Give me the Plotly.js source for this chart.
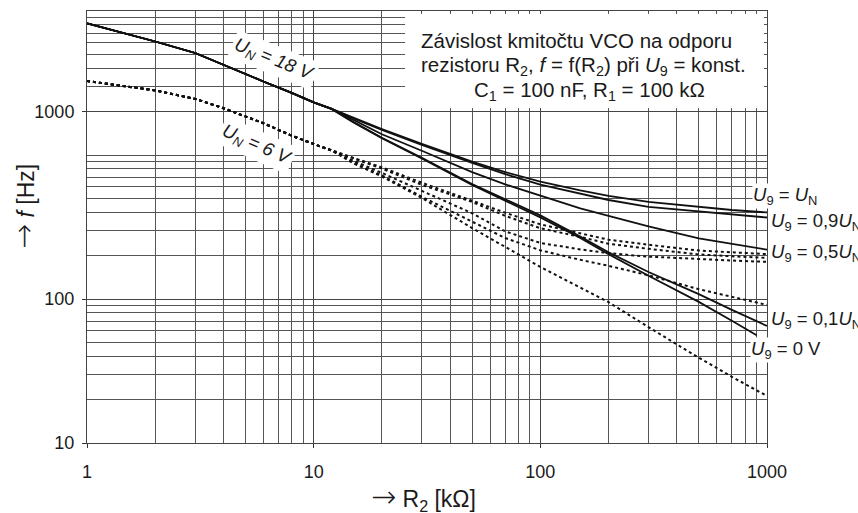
<!DOCTYPE html>
<html>
<head>
<meta charset="utf-8">
<script src="https://cdn.plot.ly/plotly-3.0.1.min.js"></script>
<style>html,body{margin:0;padding:0;background:#fff;}#chart{width:858px;height:513px;}</style>
</head>
<body>
<div id="chart"></div>
<script>
// R2 [kOhm] sample points
var R2 = [1, 2, 3, 4, 6, 8, 10, 12, 15, 20, 30, 50, 70, 100, 150, 200, 300, 500, 700, 1000];
var R2_0V = [1, 2, 3, 4, 6, 8, 10, 12, 15, 20, 30, 50, 70, 100, 150, 200, 300, 500, 700, 900];

// U_N = 18 V (solid), f [Hz]
var f18_UN   = [8200, 6140, 5110, 4217, 3240, 2700, 2320, 2090, 1816, 1516, 1194, 900, 761, 654, 567, 520, 472, 437, 415, 399];
var f18_09UN = [8200, 6140, 5110, 4217, 3240, 2700, 2320, 2090, 1793, 1492, 1173, 883, 736, 622, 540, 487, 436, 404, 386, 368];
var f18_05UN = [8200, 6140, 5110, 4217, 3240, 2700, 2320, 2090, 1745, 1394, 1070, 761, 625, 522, 426, 378, 320, 264, 242, 220];
var f18_01UN = [8200, 6140, 5110, 4217, 3240, 2700, 2320, 2090, 1692, 1319, 958, 629, 490, 381, 271, 211, 154, 108, 84, 65];
var f18_0V   = [8200, 6140, 5110, 4217, 3240, 2700, 2320, 2090, 1681, 1306, 946, 620, 480, 369, 265, 205, 145, 95.5, 70.7, 56];

// U_N = 6 V (dotted), f [Hz]
var f6_UN   = [3265, 2810, 2453, 2113, 1663, 1362, 1192, 1075, 955, 821, 642, 482, 397, 330, 286, 258, 238, 217, 211, 205];
var f6_09UN = [3265, 2810, 2453, 2113, 1663, 1362, 1192, 1075, 938, 804, 621, 472, 378, 310, 270, 242, 223, 204, 198, 193];
var f6_05UN = [3265, 2810, 2453, 2113, 1663, 1362, 1192, 1075, 911, 751, 564, 394, 295, 245, 221, 208, 197, 189, 185, 181];
var f6_01UN = [3265, 2810, 2453, 2113, 1663, 1362, 1192, 1075, 889, 722, 513, 343, 265, 218, 187, 170, 146, 117, 104, 91];
var f6_0V   = [3265, 2810, 2453, 2113, 1663, 1362, 1192, 1075, 874, 709, 503, 311, 230, 167, 120, 95, 63.8, 39.1, 28.8, 21.2];

// axis ticks
var xTickVals = [1, 10, 100, 1000];
var xTickText = ['1', '10', '100', '1000'];
var yTickVals = [10, 100, 2000];
var yTickText = ['10', '100', '1000'];
var xMinorVals = [2,3,4,5,6,7,8,9,20,30,40,50,60,70,80,90,200,300,400,500,600,700,800,900];
var yMinorVals = [20,30,40,50,60,70,80,90,200,300,400,500,600,700,800,900,1000,3000,4000,5000,6000,7000,8000,9000,10000];

var FONT = 'Liberation Sans, Arial, Helvetica, sans-serif';
var solid = {color: '#111', width: 1.8};
var dotted = {color: '#111', width: 2, dash: 'dot'};

function tr(x, y, line, name) {
  return {x: x, y: y, type: 'scatter', mode: 'lines', line: line, name: name, hoverinfo: 'skip'};
}

var data = [
  tr(R2, f6_UN, dotted, '6 V, U9=UN'),
  tr(R2, f6_09UN, dotted, '6 V, U9=0.9UN'),
  tr(R2, f6_05UN, dotted, '6 V, U9=0.5UN'),
  tr(R2, f6_01UN, dotted, '6 V, U9=0.1UN'),
  tr(R2, f6_0V, dotted, '6 V, U9=0'),
  tr(R2, f18_UN, solid, '18 V, U9=UN'),
  tr(R2, f18_09UN, solid, '18 V, U9=0.9UN'),
  tr(R2, f18_05UN, solid, '18 V, U9=0.5UN'),
  tr(R2, f18_01UN, solid, '18 V, U9=0.1UN'),
  tr(R2_0V, f18_0V, solid, '18 V, U9=0')
];

// pixel -> paper helpers (plot area: x 87..767, y 11..443)
function px(p) { return (p - 87) / 680; }
function py(p) { return (443 - p) / 432; }

var txt = '#1a1a1a';
function lab(x, y, text, opts) {
  var a = {xref: 'paper', yref: 'paper', x: px(x), y: py(y), text: text, showarrow: false,
           font: {family: FONT, size: 18.5, color: txt}, xanchor: 'left', yanchor: 'middle',
           bgcolor: 'rgba(255,255,255,0)', borderpad: 0};
  for (var k in opts) a[k] = opts[k];
  return a;
}
var ARROW = '<span style="font-family:DejaVu Sans;font-weight:200;font-size:30px">→</span>';
var boxFont = {family: FONT, size: 20.5, color: txt};

var annotations = [
  lab(576, 41, 'Závislost kmitočtu VCO na odporu', {xanchor: 'center', font: boxFont}),
  lab(583, 66, 'rezistoru R<sub>2</sub>, <i>f</i> = f(R<sub>2</sub>) při <i>U</i><sub>9</sub> = konst.', {xanchor: 'center', font: boxFont}),
  lab(589, 91, 'C<sub>1</sub> = 100 nF, R<sub>1</sub> = 100 kΩ', {xanchor: 'center', font: boxFont}),
  lab(274, 60, '<i>U<sub>N</sub> = 18 V</i>', {xanchor: 'center', textangle: 22, bgcolor: '#fff', borderpad: 2}),
  lab(256, 145, '<i>U<sub>N</sub> = 6 V</i>', {xanchor: 'center', textangle: 24, bgcolor: '#fff', borderpad: 2}),
  lab(752, 196, '<i>U</i><sub>9</sub> = <i>U</i><sub>N</sub>', {bgcolor: '#fff'}),
  lab(770, 222, '<i>U</i><sub>9</sub> = 0,9<i>U</i><sub>N</sub>'),
  lab(770, 253, '<i>U</i><sub>9</sub> = 0,5<i>U</i><sub>N</sub>'),
  lab(770, 320, '<i>U</i><sub>9</sub> = 0,1<i>U</i><sub>N</sub>'),
  lab(750, 350, '<i>U</i><sub>9</sub> = 0 V', {bgcolor: '#fff'}),
  lab(423, 497, ARROW + ' R<sub>2</sub> [kΩ]', {xanchor: 'center', font: {family: FONT, size: 23, color: txt}}),
  lab(23, 207, ARROW + ' <i>f</i> [Hz]', {xanchor: 'center', textangle: -90, font: {family: FONT, size: 23, color: txt}})
];

var axisCommon = {
  type: 'log', showgrid: true, gridcolor: '#444', gridwidth: 1,
  showline: true, mirror: true, linecolor: '#444', linewidth: 1,
  ticks: 'outside', ticklen: 4, tickcolor: '#333', zeroline: false,
  tickfont: {family: FONT, size: 18, color: txt}, tickmode: 'array'
};

var layout = {
  width: 858, height: 513,
  margin: {l: 87, r: 91, t: 11, b: 70, pad: 0},
  paper_bgcolor: '#fff', plot_bgcolor: '#fff',
  showlegend: false,
  font: {family: FONT, color: txt},
  xaxis: Object.assign({}, axisCommon, {
    range: [0, 3], tickvals: xTickVals, ticktext: xTickText, ticklabelstandoff: 8,
    minor: {tickmode: 'array', tickvals: xMinorVals, showgrid: true, gridcolor: '#555', gridwidth: 1, ticks: ''}
  }),
  yaxis: Object.assign({}, axisCommon, {
    range: [1, 4], tickvals: yTickVals, ticktext: yTickText, ticklabelstandoff: 4,
    minor: {tickmode: 'array', tickvals: yMinorVals, showgrid: true, gridcolor: '#555', gridwidth: 1, ticks: ''}
  }),
  shapes: [
    {type: 'rect', xref: 'paper', yref: 'paper', x0: px(405), x1: px(764), y0: py(108), y1: py(14),
     fillcolor: '#fff', line: {width: 0}, layer: 'above'}
  ],
  annotations: annotations
};

Plotly.newPlot('chart', data, layout, {displayModeBar: false, staticPlot: true});
</script>
</body>
</html>
